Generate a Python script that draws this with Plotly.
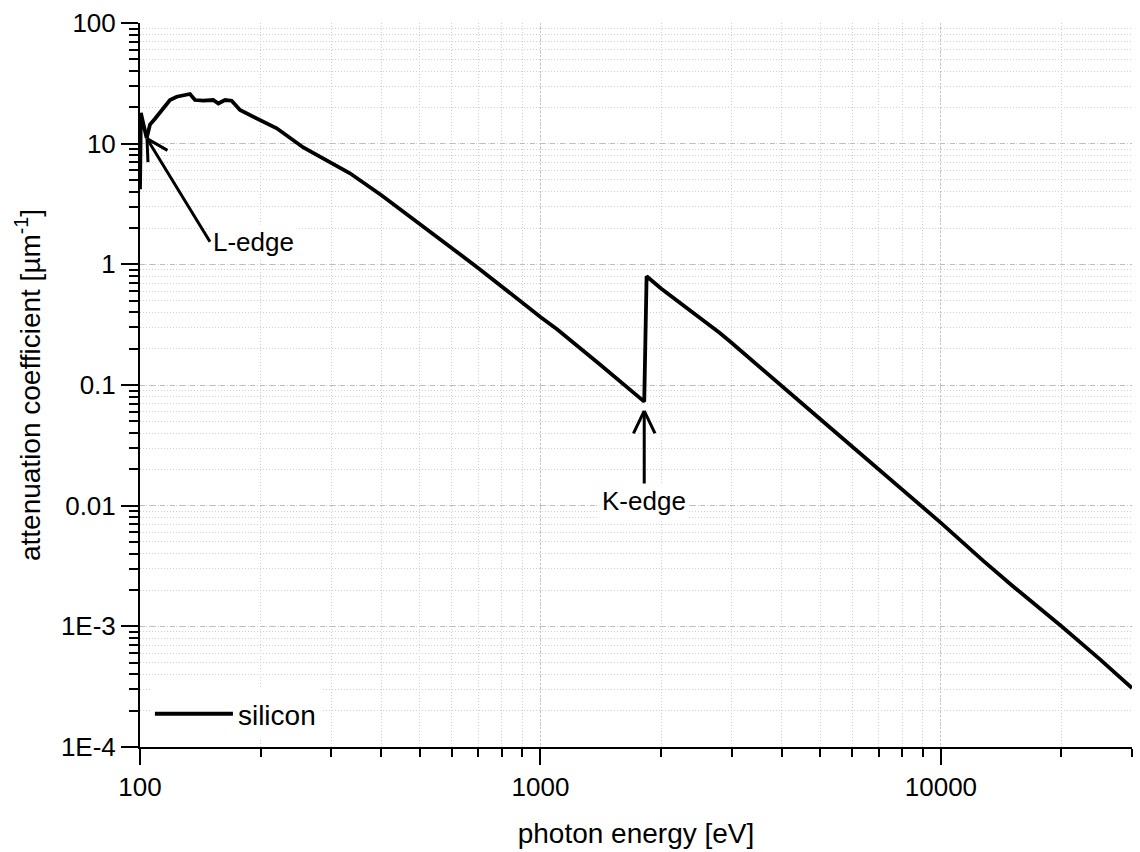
import math
import plotly.graph_objects as go

# ---- data ----
energy_ev = [100, 100.5, 103.9, 105.9, 109.0, 113.3, 118.8, 123.5, 130.8, 133.3,
             137.2, 143.9, 152.4, 156.9, 163.0, 169.4, 177.7, 219.5, 255.7, 334.4,
             400, 500, 700, 1000, 1100, 1408, 1600, 1816, 1841, 2000,
             2805, 3000, 5000, 7000, 10000, 12740, 15000, 20000, 25000, 30000]
atten_um = [4.2, 18.0, 11.1, 14.4, 16.1, 19.0, 23.0, 24.5, 25.8, 25.8,
            23.0, 22.7, 23.0, 21.5, 23.0, 22.7, 19.0, 13.4, 9.3, 5.68,
            3.76, 2.16, 0.93, 0.366, 0.29, 0.148, 0.104, 0.0728, 0.796, 0.63,
            0.27, 0.224, 0.052, 0.020, 0.0072, 0.0035, 0.0022, 0.001, 0.00053, 0.000308]

x_tick_vals = [100, 1000, 10000]
x_tick_text = ["100", "1000", "10000"]
y_tick_vals = [1e-4, 1e-3, 0.01, 0.1, 1, 10, 100]
y_tick_text = ["1E-4", "1E-3", "0.01", "0.1", "1", "10", "100"]

x_range = [math.log10(100), math.log10(30000)]
y_range = [math.log10(1e-4), math.log10(100)]

# annotation anchor points (data values)
l_edge_point = (104.1, 11.0)
k_edge_point = (1816, 0.061)

FONT = "Liberation Sans, Arial, sans-serif"

fig = go.Figure()
fig.add_trace(go.Scatter(x=energy_ev, y=atten_um, mode="lines", name="silicon",
                         line=dict(color="black", width=3.8)))

major_grid_y = dict(showgrid=True, gridcolor="#bdbdbd", gridwidth=1, griddash="5px,5px")
minor_common = dict(tickwidth=2, tickcolor="black", dtick="D1",
                    showgrid=True, gridcolor="#cfcfcf", gridwidth=1, griddash="1px,2px")

fig.update_layout(
    width=1140, height=852,
    margin=dict(l=140, r=8, t=21, b=105),
    paper_bgcolor="white", plot_bgcolor="white",
    font=dict(family=FONT, color="black", size=26),
    showlegend=True,
    legend=dict(x=0.01, y=0.011, xanchor="left", yanchor="bottom",
                bgcolor="white", borderwidth=0, itemwidth=78,
                font=dict(size=28, family=FONT)),
    xaxis=dict(type="log", range=x_range, showline=True, linecolor="black", linewidth=2,
               ticks="outside", ticklen=16, tickwidth=2, tickcolor="black",
               tickmode="array", tickvals=x_tick_vals, ticktext=x_tick_text,
               tickfont=dict(size=26),
               showgrid=True, gridcolor="#c4c4c4", gridwidth=1, griddash="2px,2px",
               minor=dict(ticks="outside", ticklen=8, **minor_common),
               zeroline=False,
               title=dict(text="photon energy [eV]", font=dict(size=28), standoff=22)),
    yaxis=dict(type="log", range=y_range, showline=True, linecolor="black", linewidth=2,
               ticks="outside", ticklen=17, tickwidth=2, tickcolor="black",
               tickmode="array", tickvals=y_tick_vals, ticktext=y_tick_text,
               tickfont=dict(size=26),
               minor=dict(ticks="outside", ticklen=9, **minor_common),
               zeroline=False,
               title=dict(text="attenuation coefficient [µm<sup>-1</sup>]",
                          font=dict(size=28), standoff=12),
               **major_grid_y),
    xaxis2=dict(type="log", range=x_range, overlaying="x", side="top", anchor="y",
                showline=True, linecolor="black", linewidth=2,
                ticks="inside", ticklen=15, tickwidth=2, tickcolor="black",
                tickmode="array", tickvals=x_tick_vals, showticklabels=False,
                showgrid=False, zeroline=False,
                minor=dict(ticks="inside", ticklen=8, tickwidth=2, tickcolor="black",
                           dtick="D1", showgrid=False)),
    yaxis2=dict(type="log", range=y_range, overlaying="y", side="right", anchor="x",
                showline=True, linecolor="black", linewidth=2,
                ticks="inside", ticklen=15, tickwidth=2, tickcolor="black",
                tickmode="array", tickvals=y_tick_vals, showticklabels=False,
                showgrid=False, zeroline=False,
                minor=dict(ticks="inside", ticklen=8, tickwidth=2, tickcolor="black",
                           dtick="D1", showgrid=False)),
)

# labelled arrows (shaft drawn by the annotation, open V head drawn by two short barbs)
lx, ly = math.log10(l_edge_point[0]), math.log10(l_edge_point[1])
kx, ky = math.log10(k_edge_point[0]), math.log10(k_edge_point[1])

fig.add_annotation(x=lx, y=ly, xref="x", yref="y", text="L-edge", font=dict(size=26),
                   showarrow=True, arrowhead=0, arrowwidth=3, arrowcolor="black",
                   ax=63, ay=103, xanchor="left", yanchor="middle",
                   bgcolor="white", borderpad=2)
for bx, by in [(21, 12), (1, 24)]:
    fig.add_annotation(x=lx, y=ly, xref="x", yref="y", text="", showarrow=True,
                       arrowhead=0, arrowwidth=3, arrowcolor="black",
                       ax=bx, ay=by, borderpad=0)

fig.add_annotation(x=kx, y=ky, xref="x", yref="y", text="K-edge", font=dict(size=26),
                   showarrow=True, arrowhead=0, arrowwidth=3, arrowcolor="black",
                   ax=0, ay=90, bgcolor="white", borderpad=2)
for bx, by in [(-11, 23), (11, 23)]:
    fig.add_annotation(x=kx, y=ky, xref="x", yref="y", text="", showarrow=True,
                       arrowhead=0, arrowwidth=3, arrowcolor="black",
                       ax=bx, ay=by, borderpad=0)

fig.write_html("out.html")
